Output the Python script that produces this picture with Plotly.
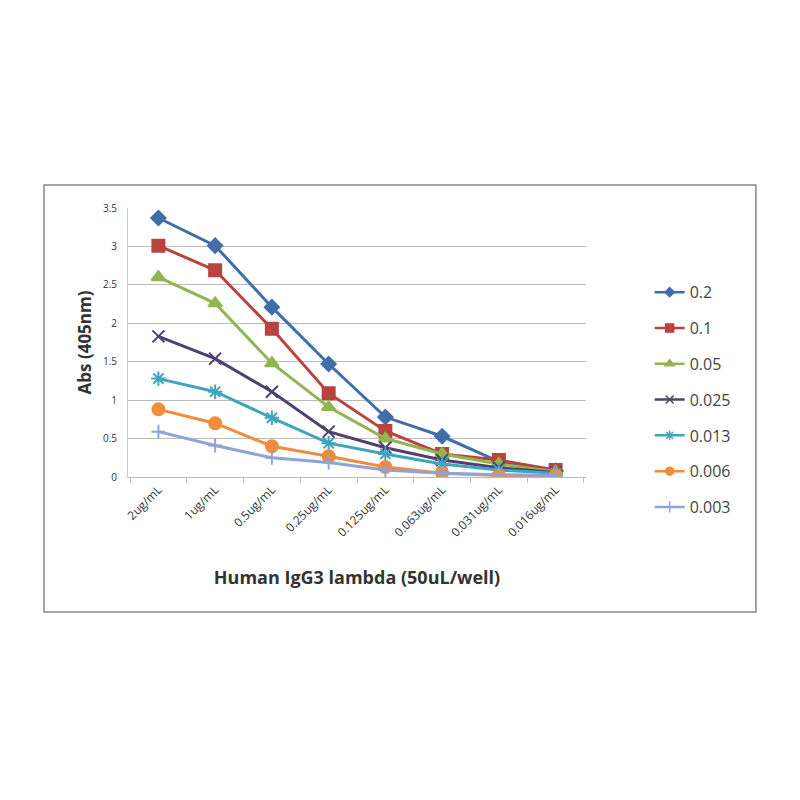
import plotly.graph_objects as go

categories = ["2ug/mL", "1ug/mL", "0.5ug/mL", "0.25ug/mL", "0.125ug/mL",
              "0.063ug/mL", "0.031ug/mL", "0.016ug/mL"]
series_names = ["0.2", "0.1", "0.05", "0.025", "0.013", "0.006", "0.003"]
s_02 = [3.37, 3.01, 2.21, 1.47, 0.78, 0.53, 0.20, 0.08]
s_01 = [3.01, 2.69, 1.93, 1.09, 0.60, 0.30, 0.22, 0.09]
s_005 = [2.60, 2.26, 1.48, 0.91, 0.50, 0.30, 0.17, 0.07]
s_0025 = [1.83, 1.54, 1.11, 0.59, 0.38, 0.22, 0.12, 0.06]
s_0013 = [1.28, 1.11, 0.77, 0.44, 0.30, 0.17, 0.09, 0.05]
s_0006 = [0.88, 0.70, 0.40, 0.27, 0.13, 0.05, 0.02, 0.02]
s_0003 = [0.59, 0.41, 0.25, 0.19, 0.09, 0.05, 0.03, 0.02]
y_ticks = [0, 0.5, 1, 1.5, 2, 2.5, 3, 3.5]
y_tick_labels = ["0", "0.5", "1", "1.5", "2", "2.5", "3", "3.5"]

values = [s_02, s_01, s_005, s_0025, s_0013, s_0006, s_0003]
colors = ["#3F6FAA", "#B8433F", "#93B551", "#4E416E", "#3FA5BE", "#F08C3C", "#8EA3D6"]
symbols = ["diamond", "square", "triangle-up", "x-thin-open", "asterisk-open", "circle", "cross-thin-open"]
sizes = [11, 12, 12, 12, 12, 12, 10]
legend_sizes = [7, 8, 8, 8, 8, 8, 8]

fig = go.Figure()
for i, (name, vals) in enumerate(zip(series_names, values)):
    fig.add_trace(go.Scatter(
        x=categories, y=vals, name=name, mode="lines+markers",
        legendgroup=name, showlegend=False,
        line=dict(color=colors[i], width=3),
        marker=dict(symbol=symbols[i], size=sizes[i], color=colors[i],
                    line=dict(color=colors[i], width=2)),
    ))
# legend entries with smaller marker glyphs (no data of their own)
for i, name in enumerate(series_names):
    fig.add_trace(go.Scatter(
        x=[None], y=[None], name=name, mode="lines+markers",
        legendgroup=name, showlegend=True,
        line=dict(color=colors[i], width=2.5),
        marker=dict(symbol=symbols[i], size=legend_sizes[i], color=colors[i],
                    line=dict(color=colors[i], width=1.5)),
    ))

fig.update_layout(
    width=800, height=800,
    margin=dict(l=120, r=222, t=200, b=331),
    paper_bgcolor="white", plot_bgcolor="white",
    font=dict(family="Open Sans, sans-serif", color="#333"),
    showlegend=True,
    legend=dict(x=1.139, y=0.75, xanchor="left", yanchor="top",
                font=dict(size=16, color="#444"), tracegroupgap=12,
                bgcolor="rgba(0,0,0,0)"),
    xaxis=dict(
        type="category", tickangle=-45, tickfont=dict(size=12, color="#333"),
        showline=True, linecolor="#bbb", linewidth=1,
        ticks="outside", tickson="boundaries", ticklen=5, tickcolor="#bbb",
        showgrid=False,
        title=dict(text="<b>Human IgG3 lambda (50uL/well)</b>",
                   font=dict(size=18, color="#333"), standoff=32),
    ),
    yaxis=dict(
        range=[0, 3.5], tickvals=y_ticks, ticktext=y_tick_labels,
        tickfont=dict(size=10, color="#333"),
        showline=True, linecolor="#ccc", linewidth=1,
        showgrid=True, gridcolor="#bbb", gridwidth=1, zeroline=False,
        ticks="", ticklabelstandoff=8,
        title=dict(text="<b>Abs (405nm)</b>", font=dict(size=17, color="#333"),
                   standoff=6),
    ),
)

fig.add_shape(type="rect", xref="paper", yref="paper",
              x0=-0.1834, x1=1.371, y0=-0.502, y1=1.0855,
              line=dict(color="#888", width=1.5), fillcolor="rgba(0,0,0,0)")

fig.write_html("out.html")
